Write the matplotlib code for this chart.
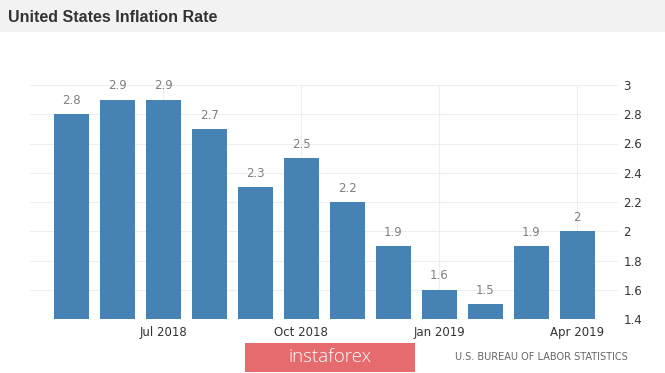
import matplotlib.pyplot as plt
from matplotlib.patches import Rectangle

months = ["May 2018", "Jun 2018", "Jul 2018", "Aug 2018", "Sep 2018", "Oct 2018",
          "Nov 2018", "Dec 2018", "Jan 2019", "Feb 2019", "Mar 2019", "Apr 2019"]
rates = [2.8, 2.9, 2.9, 2.7, 2.3, 2.5, 2.2, 1.9, 1.6, 1.5, 1.9, 2.0]
tick_idx = [2, 5, 8, 11]
yticks = [1.4, 1.6, 1.8, 2.0, 2.2, 2.4, 2.6, 2.8, 3.0]

plt.rcParams['font.family'] = ['Liberation Sans', 'DejaVu Sans']

fig = plt.figure(figsize=(6.65, 3.73), dpi=100)
fig.patch.set_facecolor('white')

# grey title band
fig.patches.append(Rectangle((0, 1 - 32 / 373), 1, 32 / 373, transform=fig.transFigure,
                             facecolor='#f2f2f2', edgecolor='none', zorder=0))
fig.text(8 / 665, 1 - 17 / 373, "United States Inflation Rate", fontsize=11.5,
         fontweight='bold', color='#333333', va='center', ha='left',
         family=['Liberation Sans Narrow', 'Liberation Sans'])

ax = fig.add_axes([30 / 665, 54 / 373, 588 / 665, 234 / 373])
x = list(range(len(rates)))
ax.bar(x, [r - 1.4 for r in rates], bottom=1.4, width=0.76, color='#4682b4', zorder=3)
for i, r in zip(x, rates):
    ax.text(i, r + 0.05, f"{r:g}", ha='center', va='bottom', fontsize=8.5,
            color='#808080', family='DejaVu Sans')

ax.set_xlim(-0.9, 11.89)
ax.set_ylim(1.4, 3.0)
ax.yaxis.tick_right()
ax.set_yticks(yticks)
ax.set_yticklabels([f"{t:g}" for t in yticks], family='DejaVu Sans', fontsize=8.5, color='#333333')
ax.set_xticks(tick_idx)
ax.set_xticklabels([months[i] for i in tick_idx], family='DejaVu Sans', fontsize=8.5, color='#333333')
ax.tick_params(axis='y', length=0, pad=4)
ax.tick_params(axis='x', length=0, pad=5)
ax.grid(True, color='#eeeeee', linewidth=0.8, zorder=0)
for s in ax.spines.values():
    s.set_visible(False)

# watermark and source
fig.patches.append(Rectangle((245 / 665, 1 / 373), 170 / 665, 29 / 373, transform=fig.transFigure,
                             facecolor='#e56b6f', edgecolor='none', zorder=1))
fig.text(330 / 665, 16 / 373, "instaforex", fontsize=13.5, color='white', ha='center',
         va='center', family='Open Sans', fontweight='light', zorder=2)
fig.text(628 / 665, 16 / 373, "U.S. BUREAU OF LABOR STATISTICS", fontsize=7,
         color='#666666', ha='right', va='center', family='DejaVu Sans')

fig.savefig('out.png', dpi=100)
